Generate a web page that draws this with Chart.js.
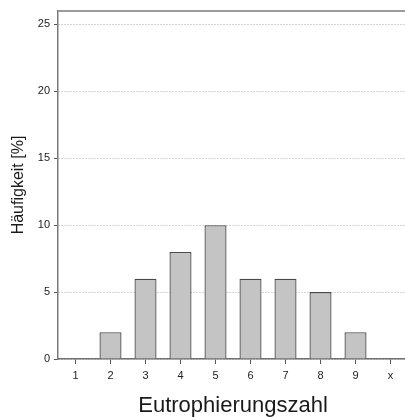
<!DOCTYPE html>
<html>
<head>
<meta charset="utf-8">
<script src="https://cdn.jsdelivr.net/npm/chart.js@4/dist/chart.umd.min.js"></script>
<style>
html,body{margin:0;padding:0;background:#fff;overflow:hidden;}
#wrap{width:405px;height:417px;overflow:hidden;position:relative;}
#c{display:block;}
</style>
</head>
<body>
<div id="wrap"><canvas id="c" width="408" height="417" style="width:408px;height:417px"></canvas></div>
<script>
const categories = ['1','2','3','4','5','6','7','8','9','x'];
const frequencies = [0, 2, 6, 8, 10, 6, 6, 5, 2, 0];
const yTicks = [0, 5, 10, 15, 20, 25];
const yMax = 26;

const topBorder = {
  id: 'topBorder',
  afterDraw(chart) {
    const {ctx, chartArea} = chart;
    ctx.save();
    ctx.strokeStyle = '#9a9a9a';
    ctx.lineWidth = 2;
    ctx.beginPath();
    ctx.moveTo(chartArea.left, chartArea.top);
    ctx.lineTo(chartArea.right + 2, chartArea.top);
    ctx.stroke();
    ctx.restore();
  }
};

new Chart(document.getElementById('c'), {
  type: 'bar',
  data: {
    labels: categories,
    datasets: [{
      data: frequencies,
      backgroundColor: '#c4c4c4',
      borderColor: '#4a4a4a',
      borderWidth: 1.3,
      barPercentage: 0.63,
      categoryPercentage: 1.0
    }]
  },
  options: {
    responsive: false,
    animation: false,
    devicePixelRatio: 1,
    layout: { padding: { top: 11, left: 0, right: 0, bottom: 0 } },
    plugins: { legend: { display: false }, tooltip: { enabled: false } },
    scales: {
      x: {
        offset: true,
        afterFit(s) { s.height = 58; },
        grid: { offset: false, drawOnChartArea: false, drawTicks: true, tickLength: 5, color: '#555', lineWidth: 1 },
        border: { display: true, color: '#707070', width: 1.5 },
        ticks: { color: '#222', font: { family: 'Liberation Sans, Arial, sans-serif', size: 11 }, padding: 5, maxRotation: 0 },
        title: {
          display: true,
          text: 'Eutrophierungszahl',
          color: '#1a1a1a',
          font: { family: 'Liberation Sans, Arial, sans-serif', size: 22, lineHeight: 1.0 },
          padding: { top: 0, bottom: 0 }
        }
      },
      y: {
        min: 0,
        max: yMax,
        afterFit(s) { s.width = 58; },
        afterBuildTicks(s) { s.ticks = yTicks.map(v => ({ value: v })); },
        grid: {
          color: '#aaaaaa', lineWidth: 1,
          drawTicks: true, tickLength: 4, tickColor: '#555', tickBorderDash: [], tickWidth: 1
        },
        border: { display: true, color: '#7a7a7a', width: 1.5, dash: [1, 2] },
        ticks: { color: '#222', font: { family: 'Liberation Sans, Arial, sans-serif', size: 11 }, padding: 4 },
        title: {
          display: true,
          text: 'Häufigkeit [%]',
          color: '#1a1a1a',
          font: { family: 'Liberation Sans, Arial, sans-serif', size: 16 },
          padding: { top: 9, bottom: 0 }
        }
      }
    }
  },
  plugins: [topBorder]
});
</script>
</body>
</html>
